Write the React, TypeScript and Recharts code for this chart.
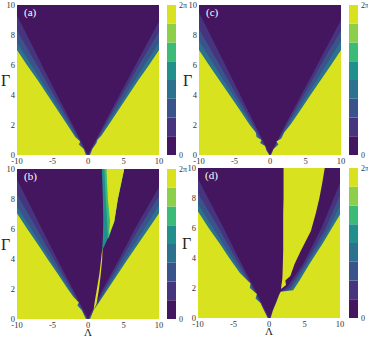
import React from "react";
import { ComposedChart, Area, XAxis, YAxis, BarChart, Bar } from "recharts";

const SERIF = '"Times New Roman", "Liberation Serif", serif';

const PURPLE = "#44165f";
const INDIGO = "#46347f";
const BLUE = "#3a548b";
const TEAL = "#2c718e";
const TEAL_GREEN = "#21908d";
const GREEN = "#3cba77";
const LIGHT_GREEN = "#8dcf4a";
const YELLOW = "#d9e21f";

const lambdaTicks = [-10, -5, 0, 5, 10];
const gammaTicks = [0, 2, 4, 6, 8, 10];

// colorbar: 8 equal phase steps, 0 .. 2π
const phaseLevels = [1, 1, 1, 1, 1, 1, 1, 1];
const phaseColors = [PURPLE, INDIGO, BLUE, TEAL, TEAL_GREEN, GREEN, LIGHT_GREEN, YELLOW];

// whole field [Γ, Λ from, Λ to]
const fullField = [
  [0, -10, 10],
  [10, -10, 10],
];

// boundaries as [Γ, Λ]
// (a)
const aLeftIndigo = [[0, 0], [2, -2.15], [4, -4.35], [6, -6.5], [8, -8.6], [9.3, -10]];
const aLeftBlue = [[0, -0.1], [2, -2.4], [4, -4.8], [6, -7.2], [8.3, -10]];
const aLeftTeal = [[0, -0.2], [2, -2.65], [4, -5.3], [6, -8.0], [7.5, -10]];
const aLeftYellow = [[0, -0.3], [0.4, -0.6], [0.7, -1.3], [0.9, -1.1], [1.2, -1.8], [2, -2.9], [3, -4.3], [4, -5.7], [5, -7.1], [6, -8.6], [7, -10]];
const aRightIndigo = [[0, 0], [2, 2.2], [4, 4.45], [6, 6.7], [8.9, 10]];
const aRightBlue = [[0, 0.1], [2, 2.4], [4, 4.8], [6, 7.2], [8.2, 10]];
const aRightTeal = [[0, 0.2], [2, 2.65], [4, 5.3], [6, 7.95], [7.5, 10]];
const aRightYellow = [[0, 0.3], [0.4, 0.6], [0.8, 1.2], [1.0, 1.3], [1.3, 1.9], [2, 2.9], [3, 4.3], [4, 5.7], [5, 7.1], [6, 8.6], [7, 10]];

// (c)
const cLeftIndigo = [[0, 0], [2, -2.1], [4, -4.2], [6, -6.3], [8, -8.4], [9.5, -10]];
const cLeftBlue = [[0, -0.1], [2, -2.35], [4, -4.7], [6, -7.1], [8.4, -10]];
const cLeftTeal = [[0, -0.2], [2, -2.6], [4, -5.2], [6, -7.9], [7.6, -10]];
const cLeftYellow = [[0, -0.1], [0.3, -0.5], [0.6, -0.7], [0.8, -1.4], [1.0, -1.2], [1.2, -1.9], [1.5, -2.0], [2, -2.85], [3, -4.25], [4, -5.7], [5, -7.15], [6, -8.6], [7, -10]];
const cRightIndigo = [[0, 0], [2, 2.15], [4, 4.4], [6, 6.65], [9.0, 10]];
const cRightBlue = [[0, 0.05], [2, 2.35], [4, 4.75], [6, 7.15], [8.3, 10]];
const cRightTeal = [[0, 0.1], [2, 2.6], [4, 5.25], [6, 7.9], [7.6, 10]];
const cRightYellow = [[0, 0.15], [0.4, 0.5], [0.7, 1.2], [0.9, 0.9], [1.1, 1.6], [1.5, 2.0], [2, 2.85], [3, 4.3], [4, 5.7], [5, 7.15], [6, 8.6], [7, 10]];

// (b)
const bLeftIndigo = [[0, 0], [2, -2.15], [4, -4.35], [6, -6.5], [8, -8.6], [9.3, -10]];
const bLeftBlue = [[0, -0.1], [2, -2.4], [4, -4.8], [6, -7.2], [8.3, -10]];
const bLeftTeal = [[0, -0.2], [2, -2.65], [4, -5.3], [6, -8.0], [7.5, -10]];
const bLeftYellow = [[0, -0.3], [0.6, -0.9], [0.9, -1.5], [1.1, -1.3], [1.5, -2.1], [2, -2.85], [3, -4.25], [4, -5.7], [5, -7.1], [6, -8.55], [7.05, -10]];
const bRightIndigo = [[0, 0], [2, 2.1], [4, 4.4], [6, 6.6], [8.8, 10]];
const bRightBlue = [[0, 0.1], [2, 2.35], [4, 4.75], [6, 7.15], [8.2, 10]];
const bRightTeal = [[0, 0.2], [2, 2.6], [4, 5.2], [6, 7.9], [7.6, 10]];
const bRightYellow = [[0, 0.3], [0.6, 0.8], [1, 1.4], [1.5, 2.1], [2, 2.8], [3, 4.2], [4, 5.6], [5, 7.05], [6, 8.5], [7.05, 10]];
// [Γ, Λ from, Λ to]
const bCrack = [[0.6, 0.8, 0.8], [1.0, 0.9, 1.2], [2, 1.25, 1.55], [3, 1.6, 1.8], [4, 1.85, 2.0], [4.7, 2.0, 2.05]];
const bStripeTeal = [[4.6, 2.0, 2.05], [5.5, 2.1, 2.9], [6.5, 2.15, 3.7], [8, 2.1, 4.2], [10, 1.95, 5.1]];
const bStripeGreen = [[5.4, 2.8, 2.9], [6.5, 2.7, 3.7], [8, 2.5, 4.2], [10, 2.3, 5.1]];
const bStripeYellow = [[5.6, 2.95, 2.95], [6.5, 3.1, 3.7], [8, 2.8, 4.2], [10, 2.6, 5.1]];

// (d)
const dLeftIndigo = [[0, 0], [2, -2.1], [4, -4.3], [6, -6.4], [8, -8.6], [9.3, -10]];
const dLeftBlue = [[0, -0.1], [2, -2.3], [4, -4.7], [6, -7.1], [8.3, -10]];
const dLeftTeal = [[0, -0.15], [1.3, -1.6], [2, -2.4], [4, -5.2], [6, -7.9], [7.6, -10]];
const dLeftYellow = [[0, -0.2], [0.6, -0.8], [1.0, -1.2], [1.3, -1.9], [1.6, -1.7], [2.0, -2.7], [2.3, -2.6], [3, -4.1], [4, -5.6], [5, -7.0], [6, -8.5], [7.1, -10]];
const dRightIndigo = [[0, 0.1], [1.7, 1.5], [2.1, 2.6], [3.6, 4.8], [6, 7.4], [9.0, 10]];
const dRightBlue = [[0, 0.15], [1.7, 1.55], [2.0, 2.9], [3.6, 5.1], [6, 8.0], [8.2, 10]];
const dRightTeal = [[0, 0.2], [1.7, 1.6], [1.9, 3.1], [3.6, 5.4], [6, 8.5], [7.5, 10]];
const dRightYellow = [[0, 0.25], [0.5, 0.55], [1, 1.0], [1.5, 1.4], [1.75, 1.65], [1.85, 3.4], [2.5, 4.3], [3.6, 5.7], [5, 7.6], [6.9, 10]];
// yellow gap between centre lobe and right lobe, [Γ, Λ from, Λ to]
const dGap = [[1.95, 1.7, 1.75], [2.2, 1.75, 2.4], [2.5, 1.85, 2.3], [2.8, 1.9, 3.0], [3.6, 1.95, 3.6], [4.5, 2.0, 4.5], [5.8, 2.0, 5.9], [7, 2.0, 6.6], [8, 2.05, 7.1], [9, 2.05, 7.5], [10, 2.05, 7.85]];

const leftRows = (pts: number[][]) => pts.map(([g, x]) => ({ g, r: [-10, x] }));
const rightRows = (pts: number[][]) => pts.map(([g, x]) => ({ g, r: [x, 10] }));
const bandRows = (pts: number[][]) => pts.map(([g, lo, hi]) => ({ g, r: [lo, hi] }));

const vLayers = (li: number[][], lb: number[][], lt: number[][], ly: number[][], ri: number[][], rb: number[][], rt: number[][], ry: number[][]) => [
  { rows: bandRows(fullField), fill: PURPLE },
  { rows: leftRows(li), fill: INDIGO },
  { rows: leftRows(lb), fill: BLUE },
  { rows: leftRows(lt), fill: TEAL },
  { rows: leftRows(ly), fill: YELLOW },
  { rows: rightRows(ri), fill: INDIGO },
  { rows: rightRows(rb), fill: BLUE },
  { rows: rightRows(rt), fill: TEAL },
  { rows: rightRows(ry), fill: YELLOW },
];

const panelA = vLayers(aLeftIndigo, aLeftBlue, aLeftTeal, aLeftYellow, aRightIndigo, aRightBlue, aRightTeal, aRightYellow);
const panelC = vLayers(cLeftIndigo, cLeftBlue, cLeftTeal, cLeftYellow, cRightIndigo, cRightBlue, cRightTeal, cRightYellow);
const panelB = [
  ...vLayers(bLeftIndigo, bLeftBlue, bLeftTeal, bLeftYellow, bRightIndigo, bRightBlue, bRightTeal, bRightYellow),
  { rows: bandRows(bCrack), fill: YELLOW },
  { rows: bandRows(bStripeTeal), fill: TEAL_GREEN },
  { rows: bandRows(bStripeGreen), fill: GREEN },
  { rows: bandRows(bStripeYellow), fill: YELLOW },
];
const panelD = [
  ...vLayers(dLeftIndigo, dLeftBlue, dLeftTeal, dLeftYellow, dRightIndigo, dRightBlue, dRightTeal, dRightYellow),
  { rows: bandRows(dGap), fill: YELLOW },
];

const tickStyle = { fontSize: 8.5, fontFamily: SERIF, fill: "#333" };

const Panel = ({ x, y, letter, layers, bottom }: any) => {
  const xh = bottom ? 18 : 20;
  return (
    <div style={{ position: "absolute", left: x, top: y }}>
      <ComposedChart
        width={165}
        height={155 + xh}
        layout="vertical"
        margin={{ top: 5, right: 6, left: 0, bottom: 0 }}
      >
        <XAxis
          type="number"
          domain={[-10, 10]}
          ticks={lambdaTicks}
          interval={0}
          height={xh}
          tickSize={0}
          tickMargin={3}
          axisLine={false}
          tick={tickStyle}
          label={
            bottom
              ? { value: "Λ", position: "insideBottom", offset: 1, style: { fontSize: 11, fontFamily: SERIF, fill: "#222" } }
              : undefined
          }
        />
        <YAxis
          type="number"
          dataKey="g"
          domain={[0, 10]}
          reversed
          ticks={gammaTicks}
          interval={0}
          width={17}
          tickSize={0}
          tickMargin={2}
          axisLine={false}
          tick={tickStyle}
          label={{ value: "Γ", position: "insideLeft", offset: 1, style: { fontSize: 16, fontFamily: SERIF, fill: "#222" } }}
        />
        {layers.map((l: any, i: number) => (
          <Area
            key={i}
            data={l.rows}
            dataKey="r"
            type="linear"
            fill={l.fill}
            fillOpacity={1}
            stroke="none"
            dot={false}
            activeDot={false}
            isAnimationActive={false}
          />
        ))}
      </ComposedChart>
      <div
        style={{
          position: "absolute",
          left: 24,
          top: 7,
          color: "#fff",
          fontSize: 11,
          fontFamily: SERIF,
          lineHeight: "11px",
        }}
      >
        {letter}
      </div>
    </div>
  );
};

const cbRow: any = { c: "phase" };
phaseLevels.forEach((v, i) => (cbRow[`s${i}`] = v));

const Colorbar = ({ x, y }: any) => (
  <div style={{ position: "absolute", left: x, top: y }}>
    <BarChart width={28} height={160} data={[cbRow]} margin={{ top: 5, right: 0, bottom: 5, left: 0 }} barCategoryGap={0}>
      <XAxis dataKey="c" hide />
      <YAxis
        orientation="right"
        type="number"
        domain={[0, 8]}
        ticks={[0, 8]}
        interval={0}
        width={19}
        tickSize={0}
        tickMargin={3}
        axisLine={false}
        tick={{ fontSize: 8, fontFamily: SERIF, fill: "#333" }}
        tickFormatter={(v: number) => (v === 0 ? "0" : "2π")}
      />
      {phaseLevels.map((_, i) => (
        <Bar key={i} dataKey={`s${i}`} stackId="p" fill={phaseColors[i]} isAnimationActive={false} />
      ))}
    </BarChart>
  </div>
);

export default function App() {
  return (
    <div style={{ position: "absolute", left: 0, top: 0, width: 368, height: 337, background: "#fff", overflow: "hidden" }}>
      <Panel x={0} y={0} letter="(a)" layers={panelA} />
      <Colorbar x={167} y={0} />
      <Panel x={182} y={0} letter="(c)" layers={panelC} />
      <Colorbar x={349} y={0} />
      <Panel x={0} y={164} letter="(b)" layers={panelB} bottom />
      <Colorbar x={167} y={164} />
      <Panel x={181} y={163} letter="(d)" layers={panelD} bottom />
      <Colorbar x={349} y={163} />
    </div>
  );
}
